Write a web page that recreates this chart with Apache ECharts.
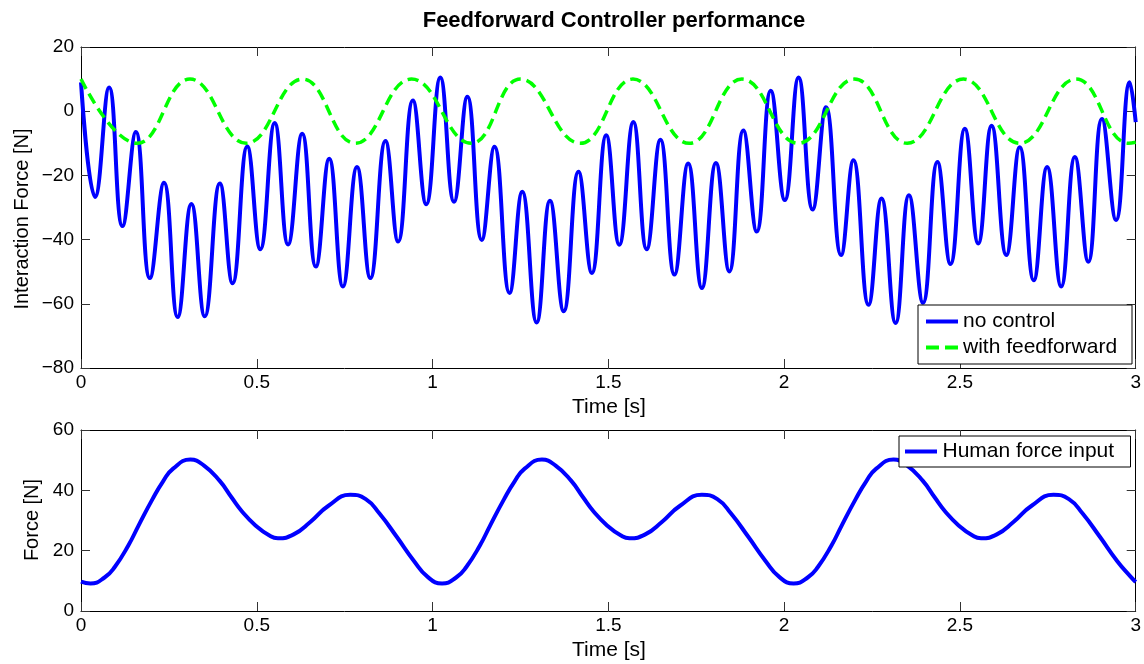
<!DOCTYPE html>
<html>
<head>
<meta charset="utf-8">
<script src="https://cdn.jsdelivr.net/npm/echarts@6/dist/echarts.min.js"></script>
<style>
html,body{margin:0;padding:0;background:#fff;}
#chart{width:1144px;height:664px;}
</style>
</head>
<body>
<div id="chart"></div>
<script>
// ---- data ----
const titleText = 'Feedforward Controller performance';
const xTicks = [0, 0.5, 1, 1.5, 2, 2.5, 3];
const topYTicks = [-80, -60, -40, -20, 0, 20];
const bottomYTicks = [0, 20, 40, 60];

// "no control" : local peaks / troughs (time [s], force [N])
const noControlT = [0, 0.040, 0.080, 0.118, 0.156, 0.196, 0.236, 0.275, 0.314, 0.352, 0.395, 0.431, 0.473, 0.510, 0.551, 0.589, 0.629, 0.668, 0.706, 0.745, 0.785, 0.823, 0.866, 0.902, 0.944, 0.982, 1.022, 1.061, 1.099, 1.140, 1.176, 1.219, 1.255, 1.296, 1.334, 1.373, 1.415, 1.453, 1.494, 1.531, 1.571, 1.609, 1.648, 1.688, 1.727, 1.766, 1.806, 1.844, 1.884, 1.922, 1.962, 2.002, 2.041, 2.081, 2.119, 2.162, 2.197, 2.240, 2.277, 2.317, 2.355, 2.395, 2.436, 2.473, 2.514, 2.552, 2.590, 2.632, 2.670, 2.710, 2.748, 2.788, 2.827, 2.865, 2.904, 2.944, 2.983, 3.0];
const noControlV = [9, -26.7, 7.4, -35.8, -6.5, -52, -22.3, -64.1, -28.9, -63.9, -22.5, -53.6, -11, -43, -3.7, -41.5, -7, -48.4, -14.8, -54.6, -17.4, -52, -9.3, -40.6, 3.3, -29, 10.5, -28.2, 4.5, -40.1, -11.1, -56.6, -25.1, -65.8, -27.9, -62.3, -18.9, -50.4, -7.5, -41.6, -3.4, -43, -8.9, -50.9, -16.3, -55.1, -16.1, -49.9, -6, -37.5, 6.4, -27.7, 10.5, -30.6, 1.2, -44.8, -15.3, -60.3, -27.2, -66, -26.2, -59.7, -15.8, -47.6, -5.5, -41.2, -4.5, -44.8, -11.2, -52.7, -17.4, -54.6, -14.3, -46.9, -2.4, -33.9, 9, -3.4];

// "with feedforward" : local peaks / troughs
const feedT = [0, 0.16, 0.31, 0.47, 0.63, 0.78, 0.94, 1.11, 1.25, 1.42, 1.57, 1.73, 1.88, 2.04, 2.20, 2.35, 2.51, 2.67, 2.83, 2.98, 3.0];
const feedV = [10, -10, 10, -10, 10, -10, 10, -10, 10, -10, 10, -10, 10, -10, 10, -10, 10, -10, 10, -10, -9.7];

// "Human force input"
const humanT = [0, 0.027, 0.067, 0.096, 0.135, 0.164, 0.203, 0.233, 0.262, 0.311, 0.350, 0.394, 0.428, 0.458, 0.497, 0.536, 0.560, 0.605, 0.653, 0.703, 0.766, 0.810, 0.849, 0.898, 0.947, 0.986,
  1.027, 1.067, 1.096, 1.135, 1.164, 1.203, 1.233, 1.262, 1.311, 1.350, 1.394, 1.428, 1.458, 1.497, 1.536, 1.560, 1.605, 1.653, 1.703, 1.766, 1.810, 1.849, 1.898, 1.947, 1.986,
  2.027, 2.067, 2.096, 2.135, 2.164, 2.203, 2.233, 2.262, 2.311, 2.350, 2.394, 2.428, 2.458, 2.497, 2.536, 2.560, 2.605, 2.653, 2.703, 2.766, 2.810, 2.849, 2.898, 2.947, 2.986, 3.0];
const humanV = [9.7, 9.1, 11.1, 14.6, 21.8, 28.4, 37.0, 42.9, 47.2, 50.2, 48.2, 43.2, 37.7, 33.0, 28.3, 25.0, 24.1, 25.4, 29.6, 34.8, 38.5, 37.1, 32.3, 24.6, 16.6, 11.3,
  9.1, 11.1, 14.6, 21.8, 28.4, 37.0, 42.9, 47.2, 50.2, 48.2, 43.2, 37.7, 33.0, 28.3, 25.0, 24.1, 25.4, 29.6, 34.8, 38.5, 37.1, 32.3, 24.6, 16.6, 11.3,
  9.1, 11.1, 14.6, 21.8, 28.4, 37.0, 42.9, 47.2, 50.2, 48.2, 43.2, 37.7, 33.0, 28.3, 25.0, 24.1, 25.4, 29.6, 34.8, 38.5, 37.1, 32.3, 24.6, 16.6, 11.3, 9.6];

// ---- chart ----
const zip = (a, b) => a.map((v, i) => [v, b[i]]);
const FONT = 'Liberation Sans, Arial, Helvetica, sans-serif';
const minusFmt = v => String(v).replace('-', '\u2212');
const SOLID_ICON = 'path://M0,0H32V4H0Z';
const DASH_ICON = 'path://M0,0H13V4H0Z M19,0H32V4H19Z';

function xAx(grid, pos, labels) {
  return {
    type: 'value', gridIndex: grid, position: pos,
    min: xTicks[0], max: xTicks[xTicks.length - 1], interval: 0.5,
    axisLine: { show: true, onZero: false, lineStyle: { color: '#000', width: 1 } },
    axisTick: { show: true, inside: true, length: 9, lineStyle: { color: '#333' } },
    axisLabel: { show: labels, color: '#000', fontSize: 19, fontFamily: FONT, margin: 5 },
    splitLine: { show: false }
  };
}
function yAx(grid, pos, labels, ticks) {
  return {
    type: 'value', gridIndex: grid, position: pos,
    min: ticks[0], max: ticks[ticks.length - 1], interval: 20,
    axisLine: { show: true, onZero: false, lineStyle: { color: '#000', width: 1 } },
    axisTick: { show: true, inside: true, length: 9, lineStyle: { color: '#333' } },
    axisLabel: { show: labels, color: '#000', fontSize: 19, fontFamily: FONT, margin: 7, formatter: minusFmt },
    splitLine: { show: false }
  };
}

const chart = echarts.init(document.getElementById('chart'), null, { renderer: 'canvas' });
chart.setOption({
  animation: false,
  backgroundColor: '#fff',
  title: {
    text: titleText, left: 609, textAlign: 'center', top: 5,
    textStyle: { fontSize: 22, fontWeight: 'bold', color: '#000', fontFamily: FONT }
  },
  grid: [
    { left: 81, top: 47, width: 1056, height: 321 },
    { left: 81, top: 430, width: 1056, height: 181 }
  ],
  xAxis: [xAx(0, 'bottom', true), xAx(0, 'top', false), xAx(1, 'bottom', true), xAx(1, 'top', false)],
  yAxis: [yAx(0, 'left', true, topYTicks), yAx(0, 'right', false, topYTicks),
          yAx(1, 'left', true, bottomYTicks), yAx(1, 'right', false, bottomYTicks)],
  legend: [
    {
      data: [{ name: 'no control', icon: SOLID_ICON }, { name: 'with feedforward', icon: DASH_ICON }],
      orient: 'vertical',
      left: 918, top: 305, itemWidth: 32, itemHeight: 4, itemGap: 5,
      padding: [6, 4, 6, 8], backgroundColor: '#fff', borderColor: '#000', borderWidth: 1,
      textStyle: { fontSize: 21, color: '#000', fontFamily: FONT, width: 165, lineHeight: 21 }
    },
    {
      data: [{ name: 'Human force input', icon: SOLID_ICON }],
      left: 899, top: 436, itemWidth: 33, itemHeight: 4,
      padding: [5, 4, 5, 6], backgroundColor: '#fff', borderColor: '#000', borderWidth: 1,
      textStyle: { fontSize: 21, color: '#000', fontFamily: FONT, width: 184, lineHeight: 21 }
    }
  ],
  graphic: [
    { type: 'text', x: 22, y: 219, rotation: Math.PI / 2,
      style: { text: 'Interaction Force [N]', fontSize: 20, fontFamily: FONT, fill: '#000', textAlign: 'center', textVerticalAlign: 'middle' } },
    { type: 'text', x: 32, y: 520, rotation: Math.PI / 2,
      style: { text: 'Force [N]', fontSize: 20, fontFamily: FONT, fill: '#000', textAlign: 'center', textVerticalAlign: 'middle' } },
    { type: 'text', x: 609, y: 407,
      style: { text: 'Time [s]', fontSize: 21, fontFamily: FONT, fill: '#000', textAlign: 'center', textVerticalAlign: 'middle' } },
    { type: 'text', x: 609, y: 650,
      style: { text: 'Time [s]', fontSize: 21, fontFamily: FONT, fill: '#000', textAlign: 'center', textVerticalAlign: 'middle' } }
  ],
  series: [
    {
      name: 'no control', type: 'line', xAxisIndex: 0, yAxisIndex: 0,
      data: zip(noControlT, noControlV), showSymbol: false, symbol: 'none', smooth: 0.45,
      lineStyle: { color: '#0000ff', width: 4 }, itemStyle: { color: '#0000ff' }, z: 2
    },
    {
      name: 'with feedforward', type: 'line', xAxisIndex: 0, yAxisIndex: 0,
      data: zip(feedT, feedV), showSymbol: false, symbol: 'none', smooth: 0.45,
      lineStyle: { color: '#00ff00', width: 3.5, type: [11, 6] }, itemStyle: { color: '#00ff00' }, z: 3
    },
    {
      name: 'Human force input', type: 'line', xAxisIndex: 2, yAxisIndex: 2,
      data: zip(humanT, humanV), showSymbol: false, symbol: 'none', smooth: 0.5,
      lineStyle: { color: '#0000ff', width: 4 }, itemStyle: { color: '#0000ff' }
    }
  ]
});
</script>
</body>
</html>
